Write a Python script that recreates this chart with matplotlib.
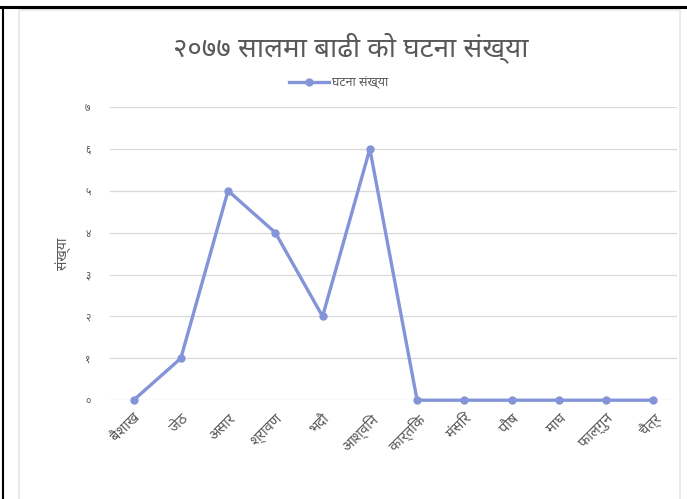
import matplotlib
matplotlib.use("Agg")
import matplotlib.pyplot as plt
from matplotlib import font_manager
from matplotlib.ft2font import FT2Font
from matplotlib.lines import Line2D
from matplotlib.patches import Rectangle

# data
months = ["बैशाख", "जेठ", "असार", "श्रावण", "भदौ", "आश्विन",
          "कार्तिक", "मंसिर", "पौष", "माघ", "फाल्गुन", "चैत्र"]
counts = [0, 1, 5, 4, 2, 6, 0, 0, 0, 0, 0, 0]
y_ticks = [0, 1, 2, 3, 4, 5, 6, 7]
y_tick_labels = ["०", "१", "२", "३", "४", "५", "६", "७"]
title = "२०७७ सालमा बाढी को घटना संख्या"
series_name = "घटना संख्या"
y_label = "संख्या"


def pick_devanagari_font():
    installed = {f.name for f in font_manager.fontManager.ttflist}
    for name in ["Noto Sans Devanagari", "Hind", "Mukta", "Poppins", "Yantramanav"]:
        if name in installed:
            return name
    for f in font_manager.fontManager.ttflist:
        try:
            if 0x0915 in FT2Font(f.fname).get_charmap():
                return f.name
        except Exception:
            pass
    return None


deva = pick_devanagari_font()
plt.rcParams["font.family"] = [deva, "DejaVu Sans"] if deva else ["DejaVu Sans"]

line_color = "#8494d8"
text_color = "#595959"

fig = plt.figure(figsize=(6.87, 4.99), dpi=100)
ax = fig.add_axes([0.160, 0.198, 0.8255, 0.5876])

x = list(range(len(months)))
ax.plot(x, counts, color=line_color, lw=2.4, marker="o", ms=5,
        label=series_name, zorder=3, clip_on=False)

ax.set_xlim(-0.5, len(months) - 0.5)
ax.set_ylim(0, 7)
ax.tick_params(axis="y", length=0, pad=14)
ax.tick_params(axis="x", length=0, pad=8)
ax.set_yticks(y_ticks)
ax.set_yticklabels(y_tick_labels, fontsize=7.5, color=text_color)
ax.set_xticks(x)
ax.set_xticklabels(months, fontsize=10.5, color=text_color)
for lab in ax.get_xticklabels():
    lab.set_rotation(45)
    lab.set_ha("right")
    lab.set_rotation_mode("anchor")
ax.grid(axis="y", color="#d9d9d9", lw=0.9)
ax.set_axisbelow(True)
for s in ax.spines.values():
    s.set_visible(False)

ax.set_ylabel(y_label, fontsize=10, color=text_color, labelpad=10)

fig.text(0.51, 0.905, title, ha="center", va="center", fontsize=20,
         color=text_color)

handle = Line2D([], [], color=line_color, lw=2.4, marker="o", ms=5)
fig.legend([handle], [series_name], loc="center", bbox_to_anchor=(0.493, 0.834),
           frameon=False, fontsize=9, labelcolor=text_color,
           handlelength=3.2, handletextpad=0.2)

# frame of the page the chart was clipped from
fig.add_artist(Rectangle((19 / 687, -0.01), (680 - 19) / 687, (499 - 10) / 499 + 0.01,
                         transform=fig.transFigure, fill=False,
                         edgecolor="#e6e6e6", lw=1.2))
fig.add_artist(Line2D([0, 1], [1 - 7 / 499, 1 - 7 / 499], transform=fig.transFigure,
                      color="black", lw=2.2))
fig.add_artist(Line2D([3 / 687, 3 / 687], [0, 1 - 7 / 499], transform=fig.transFigure,
                      color="black", lw=1.5))

fig.savefig("out.png", dpi=100)
